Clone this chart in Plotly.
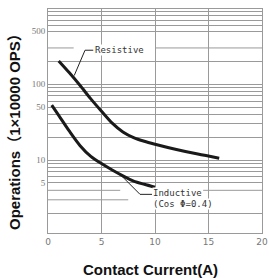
import plotly.graph_objects as go
import math

# Data
res_x = [1, 2, 3, 4, 5, 6, 7, 8, 9, 10, 12, 14, 16]
res_y = [202, 141, 96, 64, 44, 30.7, 23.5, 19.8, 17.7, 16.2, 13.8, 12.0, 10.6]
ind_x = [0.35, 1, 2, 3, 4, 5, 6, 7, 8, 9, 10]
ind_y = [53, 38.9, 24, 15.5, 11.2, 9.0, 7.4, 6.2, 5.3, 4.8, 4.4]

x_ticks = [0, 5, 10, 15, 20]
y_labels = {500: "500", 100: "100", 50: "50", 10: "10", 5: "5"}
grid_full = [1000, 900, 800, 700, 600, 500, 200, 100,
             90, 80, 70, 60, 50, 40, 30, 20, 10,
             9, 8, 7, 6, 5, 2]
grid_broken = {300: [(0, 2.4), (10, 20)], 4: [(0, 6.75), (14.5, 20)], 3: [(0, 7.5)]}

res_leader_x = [2.45, 3.46, 4.23]
res_leader_y = [130, 280, 280]
ind_leader_x = [6.73, 8.6, 9.72]
ind_leader_y = [6.5, 3.54, 3.54]

GRID = "#9a9a9a"
fig = go.Figure()

for val, segs in grid_broken.items():
    for (a, b) in segs:
        fig.add_shape(type="line", x0=a, x1=b, y0=val, y1=val, xref="x", yref="y",
                      line=dict(color=GRID, width=1), layer="below")

fig.add_trace(go.Scatter(x=res_leader_x, y=res_leader_y, mode="lines",
                         line=dict(color="#222", width=1), hoverinfo="skip"))
fig.add_trace(go.Scatter(x=ind_leader_x, y=ind_leader_y, mode="lines",
                         line=dict(color="#222", width=1), hoverinfo="skip"))
fig.add_trace(go.Scatter(x=res_x, y=res_y, mode="lines",
                         line=dict(color="#1a1a1a", width=3, shape="spline", smoothing=0.8)))
fig.add_trace(go.Scatter(x=ind_x, y=ind_y, mode="lines",
                         line=dict(color="#1a1a1a", width=3, shape="spline", smoothing=0.8)))

lab_font = dict(family="DejaVu Sans Mono", size=9, color="#333")
fig.add_annotation(x=4.3, y=math.log10(285), xref="x", yref="y", text="Resistive", showarrow=False,
                   xanchor="left", yanchor="middle", font=lab_font, bgcolor="white", borderpad=0)
fig.add_annotation(x=9.75, y=math.log10(3.68), xref="x", yref="y", text="Inductive", showarrow=False,
                   xanchor="left", yanchor="middle", font=lab_font, bgcolor="white", borderpad=0)
fig.add_annotation(x=9.75, y=math.log10(2.68), xref="x", yref="y", text="(Cos Φ=0.4)", showarrow=False,
                   xanchor="left", yanchor="middle", font=lab_font, bgcolor="white", borderpad=0)

title_font = dict(family="Liberation Sans, Noto Sans CJK SC", size=15, color="#111", weight="bold")
fig.add_annotation(x=0.5, y=0, xref="paper", yref="paper", text="Contact Current(A)", showarrow=False,
                   xanchor="center", yanchor="middle", xshift=-5, yshift=-36, font=title_font)
fig.add_annotation(x=0, y=0.5, xref="paper", yref="paper", text="Operations（1×10000 OPS）",
                   showarrow=False, textangle=-90, xanchor="center", yanchor="middle",
                   xshift=-34, yshift=-7, font=title_font)

fig.update_layout(
    width=269, height=278,
    margin=dict(l=48, r=7, t=9, b=45),
    paper_bgcolor="white", plot_bgcolor="white",
    showlegend=False,
    xaxis=dict(range=[0, 20], tickvals=x_ticks, ticktext=[str(v) for v in x_ticks],
               showgrid=True, gridcolor=GRID, gridwidth=1, zeroline=False, automargin=False,
               showline=True, linecolor=GRID, linewidth=1, mirror=True,
               tickfont=dict(family="DejaVu Sans", size=9, color="#777")),
    yaxis=dict(type="log", range=[0.04, 2.99], automargin=False,
               tickvals=grid_full, ticktext=[y_labels.get(v, "") for v in grid_full],
               showgrid=True, gridcolor=GRID, gridwidth=1, zeroline=False,
               showline=True, linecolor=GRID, linewidth=1, mirror=True,
               tickfont=dict(family="Liberation Serif", size=9, color="#777")),
)

fig.write_html("out.html", config={"displayModeBar": False},
               post_script="document.body.style.margin='0';document.body.style.overflow='hidden';")
